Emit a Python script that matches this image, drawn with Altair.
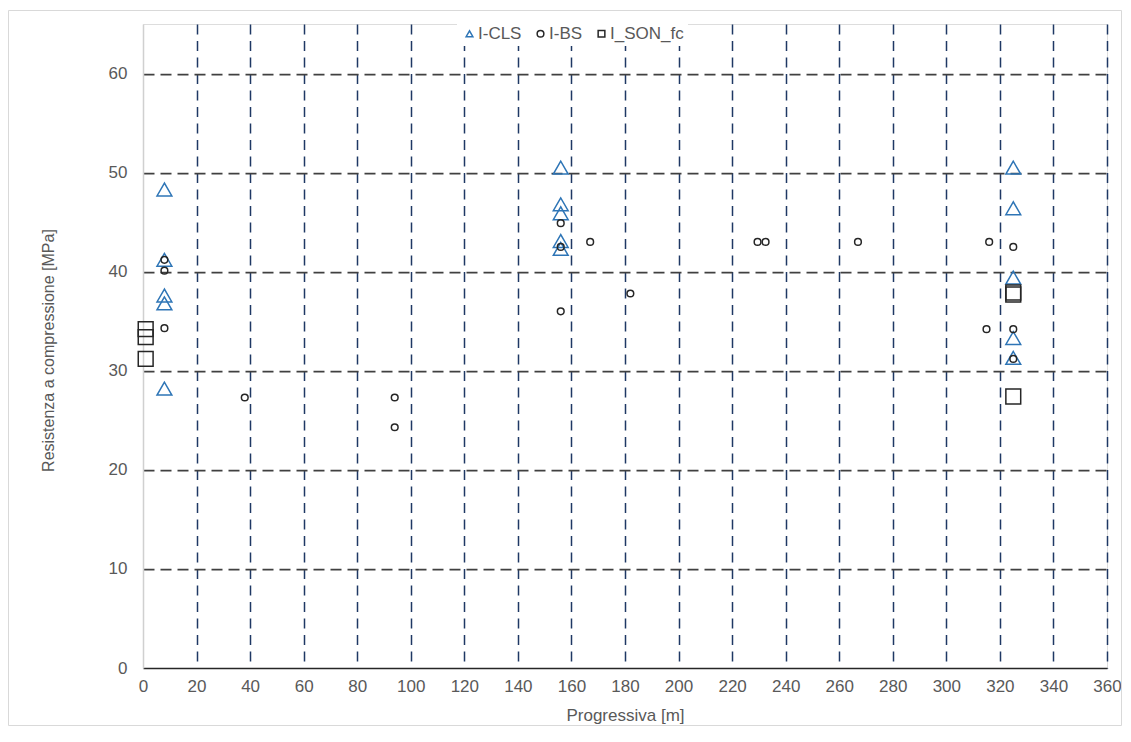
import altair as alt
import pandas as pd

# ---- data ----
cls_x = [8, 8, 8, 8, 8, 156, 156, 156, 156, 156, 325, 325, 325, 325, 325]
cls_y = [48.3, 41.2, 37.6, 36.8, 28.2, 50.5, 46.8, 45.9, 43.1, 42.3, 50.5, 46.4, 39.4, 33.3, 31.3]

bs_x = [8, 8, 8, 38, 94, 94, 156, 156, 156, 167, 182, 229.5, 232.5, 267, 316, 315, 325, 325, 325]
bs_y = [41.2, 40.1, 34.3, 27.3, 27.3, 24.3, 44.9, 42.5, 36.0, 43.0, 37.8, 43.0, 43.0, 43.0, 43.0, 34.2, 42.5, 34.2, 31.2]

son_x = [1, 1, 1, 325, 325, 325]
son_y = [34.2, 33.4, 31.2, 37.9, 37.7, 27.4]

series = ["I-CLS", "I-BS", "I_SON_fc"]
x_ticks = list(range(0, 361, 20))
y_ticks = list(range(0, 61, 10))

df = pd.concat([
    pd.DataFrame({"x": cls_x, "y": cls_y, "s": series[0]}),
    pd.DataFrame({"x": bs_x, "y": bs_y, "s": series[1]}),
    pd.DataFrame({"x": son_x, "y": son_y, "s": series[2]}),
], ignore_index=True)

FONT = "Liberation Sans"
GRAY = "#595959"

legend = alt.Legend(
    orient="none", legendX=314, legendY=-3, direction="horizontal", title=None,
    fillColor="white", padding=4, symbolSize=45, symbolStrokeWidth=1.5,
    labelFontSize=17, labelColor=GRAY, labelFont=FONT, columnPadding=10, labelOffset=0,
)

x_axis = alt.Axis(
    values=x_ticks, title="Progressiva [m]", titleFontSize=17, titleColor=GRAY,
    titleFontWeight="normal", titleFont=FONT, titlePadding=13,
    labelFontSize=17, labelColor=GRAY, labelFont=FONT, labelPadding=10, labelFlush=False,
    ticks=False, domainColor="#262626", domainWidth=1.5,
    grid=True, gridColor="#1F3864", gridWidth=1.5, gridDash=[10, 6.5],
    gridOpacity={"condition": {"test": "datum.value == 0", "value": 0}, "value": 1},
)
y_axis = alt.Axis(
    values=y_ticks, title="Resistenza a compressione [MPa]", titleFontSize=16,
    titleColor=GRAY, titleFontWeight="normal", titleFont=FONT,
    titleX=-95, titleY=326, titleAngle=270, titleBaseline="middle", titleAlign="center",
    labelFontSize=17, labelColor=GRAY, labelFont=FONT, labelPadding=16, labelFlush=False,
    ticks=False, domainColor="#d0d0d0", domainWidth=1.5,
    grid=True, gridColor="#404040", gridWidth=1.75, gridDash=[11, 6],
    gridOpacity={"condition": {"test": "datum.value == 0", "value": 0}, "value": 1},
)

points = alt.Chart(df).mark_point(filled=False, strokeWidth=1.5, opacity=1).encode(
    x=alt.X("x:Q", scale=alt.Scale(domain=[0, 360], nice=False, zero=False), axis=x_axis),
    y=alt.Y("y:Q", scale=alt.Scale(domain=[0, 65], nice=False), axis=y_axis),
    shape=alt.Shape("s:N", scale=alt.Scale(domain=series, range=["triangle-up", "circle", "square"]), legend=legend),
    color=alt.Color("s:N", scale=alt.Scale(domain=series, range=["#2E75B6", "#262626", "#262626"]), legend=legend),
    size=alt.condition("datum.s == 'I-BS'", alt.value(45), alt.value(220)),
)

border = alt.Chart(pd.DataFrame({"a": [0]})).mark_rect(
    fill=None, stroke="#d9d9d9", strokeWidth=1
).encode(
    x=alt.value(-134.5), x2=alt.value(978.5), y=alt.value(-13.5), y2=alt.value(701.5)
)

chart = alt.layer(border, points).properties(
    width=964, height=644,
    autosize=alt.AutoSizeParams(type="none"),
    padding={"left": 135, "top": 16, "right": 16, "bottom": 58},
).configure_view(stroke=None).configure(font=FONT)

chart.save("out.html", embed_options={"renderer": "svg", "actions": False})
